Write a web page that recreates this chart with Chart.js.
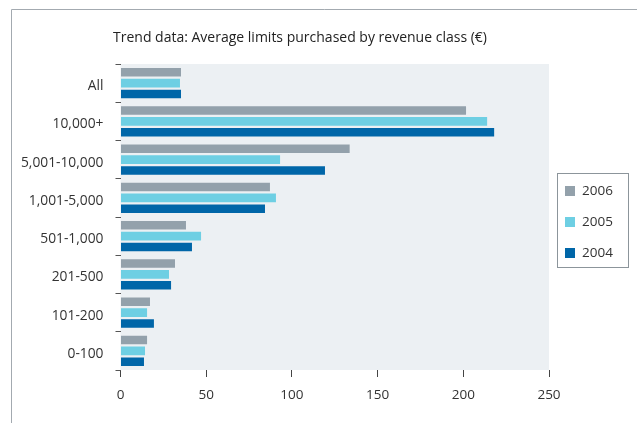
<!DOCTYPE html>
<html>
<head>
<meta charset="utf-8">
<script src="https://cdn.jsdelivr.net/npm/chart.js@4"></script>
<style>
  html, body { margin: 0; padding: 0; background: #fff; }
  #wrap { width: 637px; height: 423px; }
</style>
</head>
<body>
<div id="wrap"><canvas id="limitsChart" width="637" height="423"></canvas></div>
<script>
const chartTitle = 'Trend data: Average limits purchased by revenue class (€)';
const revenueClasses = ['All', '10,000+', '5,001-10,000', '1,001-5,000', '501-1,000', '201-500', '101-200', '0-100'];
const years = ['2006', '2005', '2004'];
const values2006 = [35.3, 201.6, 133.7, 87.2, 38.2, 31.8, 17.2, 15.5];
const values2005 = [34.7, 213.9, 93.1, 90.7, 47.0, 28.3, 15.5, 14.3];
const values2004 = [35.3, 218.0, 119.3, 84.3, 41.7, 29.5, 19.5, 13.7];
const xTicks = [0, 50, 100, 150, 200, 250];

const colors = ['#93a1ab', '#6ecfe3', '#0066a8'];
const fontFamily = '"Open Sans", "DejaVu Sans", sans-serif';
const textColor = '#333';

// frame, plot background, title and the boxed legend on the right
const decorPlugin = {
    id: 'decor',
    beforeDraw(chart) {
        const ctx = chart.ctx;
        const area = chart.chartArea;
        ctx.save();
        ctx.strokeStyle = '#a3aab0';
        ctx.lineWidth = 1;
        ctx.beginPath();
        ctx.moveTo(11.5, 423);
        ctx.lineTo(11.5, 9.5);
        ctx.lineTo(637, 9.5);
        ctx.stroke();

        ctx.fillStyle = '#ecf0f3';
        ctx.fillRect(area.left, area.top, area.right - area.left, area.bottom - area.top);

        ctx.fillStyle = '#222';
        ctx.font = '14px ' + fontFamily;
        ctx.textBaseline = 'middle';
        ctx.textAlign = 'left';
        ctx.fillText(chartTitle, 113, 38);
        ctx.restore();
    },
    afterDraw(chart) {
        const ctx = chart.ctx;
        ctx.save();
        ctx.strokeStyle = '#8c959b';
        ctx.lineWidth = 1;
        ctx.strokeRect(557.5, 173.5, 71, 94);
        ctx.font = '13.5px ' + fontFamily;
        ctx.textBaseline = 'middle';
        ctx.textAlign = 'left';
        chart.data.datasets.forEach((ds, i) => {
            const cy = 191 + i * 31;
            ctx.fillStyle = ds.backgroundColor;
            ctx.fillRect(565, cy - 5, 10, 10);
            ctx.fillStyle = textColor;
            ctx.fillText(ds.label, 582, cy);
        });
        ctx.restore();
    }
};

const ctx = document.getElementById('limitsChart').getContext('2d');
const limitsChart = new Chart(ctx, {
    type: 'bar',
    data: {
        labels: revenueClasses,
        datasets: [values2006, values2005, values2004].map((vals, i) => ({
            label: years[i],
            data: vals,
            backgroundColor: colors[i],
            borderWidth: 0,
            categoryPercentage: 0.86,
            barPercentage: 0.78
        }))
    },
    options: {
        indexAxis: 'y',
        responsive: false,
        animation: false,
        layout: { padding: { top: 64, right: 88, left: 0, bottom: 0 } },
        plugins: {
            legend: { display: false },
            title: { display: false },
            tooltip: { enabled: false }
        },
        scales: {
            x: {
                min: 0,
                max: 250,
                afterBuildTicks: scale => { scale.ticks = xTicks.map(v => ({ value: v })); },
                border: { display: false },
                grid: { drawOnChartArea: false, tickLength: 7, color: '#444' },
                ticks: { color: textColor, padding: 10, font: { family: fontFamily, size: 13.5 } },
                afterFit: scale => { scale.height = 53; }
            },
            y: {
                border: { display: false },
                grid: { drawOnChartArea: false, tickLength: 5, color: '#555', offset: true },
                ticks: { color: textColor, padding: 12, labelOffset: 3, font: { family: fontFamily, size: 13.8 } },
                afterFit: scale => { scale.width = 120.5; }
            }
        }
    },
    plugins: [decorPlugin]
});
</script>
</body>
</html>
